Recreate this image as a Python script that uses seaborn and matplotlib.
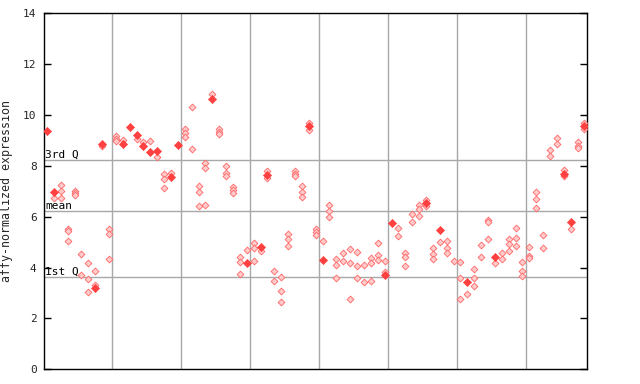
import matplotlib
matplotlib.use("Agg")
import matplotlib.pyplot as plt
import numpy as np
import pandas as pd
import seaborn as sns

# values per sample (open = checkered diamonds, solid = filled diamonds)
open_vals = [
    [], [6.72], [7.25, 7.01, 6.72], [5.52, 5.42, 5.06], [7.02, 6.93, 6.85],
    [4.53, 3.70], [4.17, 3.55, 3.03], [3.87, 3.30], [8.78], [5.51, 5.32, 4.34],
    [9.18, 9.05, 8.98], [9.02], [], [9.04], [8.93],
    [8.96], [8.34], [7.68, 7.47, 7.12], [7.72], [],
    [9.44, 9.30, 9.15], [10.30, 8.65], [7.21, 6.96, 6.42], [8.10, 7.90, 6.46], [10.81],
    [9.44, 9.35, 9.26], [7.99, 7.73, 7.61], [7.16, 7.05, 6.93], [4.42, 4.23, 3.74], [4.69],
    [4.97, 4.76, 4.26], [4.65], [7.80, 7.52], [3.87, 3.47], [3.62, 3.07, 2.63],
    [5.32, 5.14, 4.84], [7.80, 7.69, 7.59], [7.21, 6.96, 6.76], [9.70, 9.41], [5.50, 5.40, 5.28],
    [5.05], [6.46, 6.21, 5.98], [4.33, 4.09, 3.59], [4.56, 4.27], [4.72, 4.17, 2.75],
    [4.60, 4.05, 3.59], [4.09, 3.43], [4.36, 4.17, 3.47], [4.95, 4.48, 4.29], [4.26, 3.81],
    [], [5.54, 5.23], [4.57, 4.40, 4.05], [6.09, 5.78], [6.46, 6.29, 6.02],
    [6.66, 6.44], [4.76, 4.52, 4.33], [4.99], [5.03, 4.76, 4.56], [4.25],
    [4.21, 3.58, 2.75], [2.95], [3.93, 3.58, 3.26], [4.88, 4.40], [5.88, 5.79, 5.11],
    [4.17], [4.56, 4.34], [5.12, 4.93, 4.65], [5.54, 5.15, 4.84], [4.21, 3.87, 3.67],
    [4.80, 4.46, 4.36], [6.96, 6.68, 6.33], [5.27, 4.76], [8.61, 8.39], [9.08, 8.87],
    [7.84, 7.61], [5.50], [8.93, 8.80, 8.69], [9.70, 9.44],
]
solid_vals = [
    [9.38], [6.96], [], [], [],
    [], [], [3.20], [8.88], [],
    [], [8.86], [9.54], [9.22], [8.79],
    [8.56], [8.58], [], [7.58], [8.82],
    [], [], [], [], [10.63],
    [], [], [], [], [4.19],
    [], [4.82], [7.66], [], [],
    [], [], [], [9.56], [],
    [4.31], [], [], [], [],
    [], [], [], [], [3.71],
    [5.77], [], [], [], [],
    [6.55], [], [5.49], [], [],
    [], [3.43], [], [], [],
    [4.42], [], [], [], [],
    [], [], [], [], [],
    [7.67], [5.80], [], [9.58],
]
q1_value = 3.62
mean_value = 6.21
q3_value = 8.23
ref_labels = ["1st Q", "mean", "3rd Q"]
y_ticks = [0, 2, 4, 6, 8, 10, 12, 14]
group_size = 10
y_label = "affy-normalized expression"

rows = []
for i, vals in enumerate(open_vals):
    for v in vals:
        rows.append((i, v, "open"))
for i, vals in enumerate(solid_vals):
    for v in vals:
        rows.append((i, v, "solid"))
df = pd.DataFrame(rows, columns=["sample", "value", "kind"])
n_samples = len(open_vals)

sns.set_style("white")
plt.rcParams["font.family"] = ["DejaVu Sans Mono"]

fig = plt.figure(figsize=(6.4, 3.84), dpi=100)
ax = fig.add_axes([0.0692, 0.0383, 0.8485, 0.927])

grid_c = "#a8a8a8"
for b in range(group_size, n_samples, group_size):
    ax.axvline(b - 0.5, color=grid_c, lw=1, zorder=0)
for q in (q1_value, mean_value, q3_value):
    ax.axhline(q, color=grid_c, lw=1, zorder=0)

sns.scatterplot(data=df[df.kind == "open"], x="sample", y="value", marker="D",
                s=12, color="#ffcaca", edgecolor="#ff6666", linewidth=0.6, ax=ax,
                legend=False, zorder=3)
sns.scatterplot(data=df[df.kind == "solid"], x="sample", y="value", marker="D",
                s=17, color="#ff4040", edgecolor="#ff4040", linewidth=0.5, ax=ax,
                legend=False, zorder=4)

tr = ax.get_yaxis_transform()
for lab, q in zip(ref_labels, (q1_value, mean_value, q3_value)):
    ax.text(0.002, q + 0.03, lab, transform=tr, fontsize=8, va="bottom", ha="left",
            color="black", zorder=5)

ax.set_xlim(-0.39, 78.42)
ax.set_ylim(0, 14)
ax.set_yticks(y_ticks)
ax.set_xticks([])
ax.set_xlabel("")
ax.set_ylabel(y_label, fontsize=8.4, labelpad=7)
ax.tick_params(axis="y", direction="in", length=5, width=1, left=True, right=True,
               labelsize=8, pad=5.5, color="black")
for s in ax.spines.values():
    s.set_color("black")
    s.set_linewidth(1)

fig.savefig("out.png", dpi=100)
